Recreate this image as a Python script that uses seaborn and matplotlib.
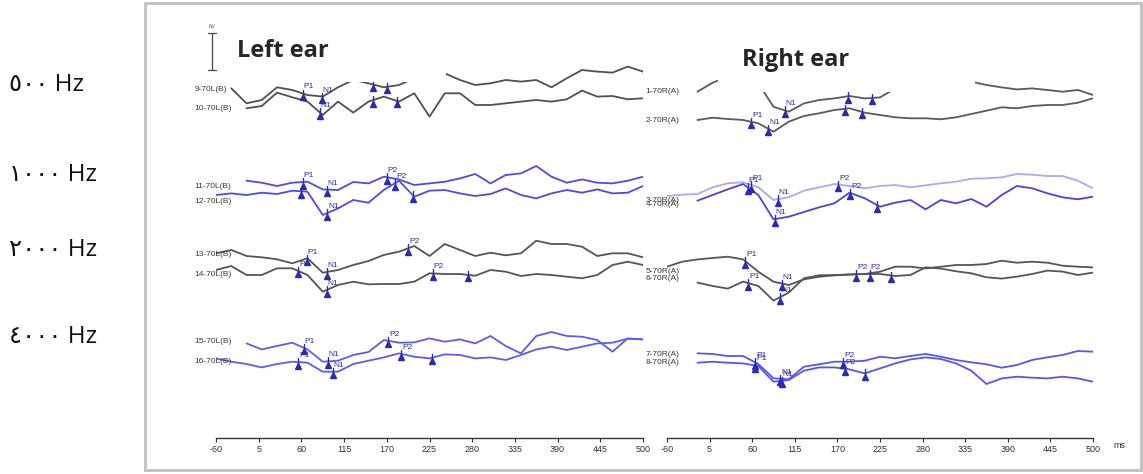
import numpy as np
import pandas as pd
import matplotlib.pyplot as plt
import seaborn as sns
from matplotlib.patches import Rectangle
from matplotlib.lines import Line2D

nan = np.nan

# time axis (ms) shared by every trace
t_ms = [-60, -40, -20, 0, 20, 40, 60, 80, 100, 120, 140, 160, 180, 200, 220,
        240, 260, 280, 300, 320, 340, 360, 380, 400, 420, 440, 460, 480, 500]
tick_labels = ['-60', '5', '60', '115', '170', '225', '280', '335', '390', '445', '500']
freq_labels = ['٥٠٠ Hz', '١٠٠٠ Hz', '٢٠٠٠ Hz', '٤٠٠٠ Hz']

# ---- left ear traces (amplitude relative to each baseline) ----
left_names = ['9-70L(B)', '10-70L(B)', '11-70L(B)', '12-70L(B)',
              '13-70L(B)', '14-70L(B)', '15-70L(B)', '16-70L(B)']
left_base = [348.7, 329.7, 251.3, 236.3, 183, 163, 96.3, 76.3]

L9 = [nan, 1.0, -14.0, -10.7, 2.0, -0.7, -5.7, -7.3, 2.0, 9.3, 6.0, 2.0, 4.3, 11.0, 16.0,
      16.0, 9.3, 4.3, 6.0, 9.3, 7.7, 9.3, 2.0, 11.0, 19.3, 17.7, 16.7, 22.7, 17.7]
L10 = [nan, nan, 0.0, 2.3, 15.7, 11.0, 6.7, -6.7, 6.7, -4.3, 6.7, 11.7, 6.7, 15.0, -8.3,
       15.0, 15.0, 3.3, 3.3, 5.0, 6.7, 8.3, 6.7, 9.0, 17.7, 11.7, 12.3, 9.0, 10.0]
L11 = [nan, nan, 6.0, 4.0, 0.7, 4.0, 5.0, -2.7, -3.3, 4.7, 3.3, 10.0, 7.3, 1.7, 3.3,
       5.0, 8.3, 12.7, 3.3, 11.7, 13.3, 20.7, 10.0, 4.0, 7.3, 4.0, 3.3, 6.0, 10.0]
L12 = [6.7, 8.3, 6.7, 9.0, 7.7, 11.0, 10.0, -13.3, -6.7, 1.7, -1.0, 11.7, 21.0, 5.0, 11.0,
       11.7, 8.3, 5.7, 7.7, 13.3, 6.7, 3.3, 8.3, 11.7, 9.0, 12.3, 8.3, 9.0, 15.7]
L13 = [1.7, 5.0, -1.0, -2.3, -4.3, -8.3, -3.3, -17.7, -15.0, -10.0, -6.0, 0.0, 3.3, 9.0, -1.0,
       11.0, 5.0, -1.0, 2.3, -0.3, 1.7, 14.3, 11.0, 11.0, 8.3, -1.0, 1.7, 1.7, -2.3]
L14 = [5.0, 9.0, 0.0, 0.0, 6.7, 6.7, 0.0, -16.7, -10.0, -6.7, -9.3, -9.0, -9.0, -6.7, 1.7,
       1.0, 1.0, -0.7, 5.0, 3.3, -1.0, 1.0, 0.0, -1.7, -3.3, 0.0, 10.0, 13.3, 10.0]
L15 = [nan, nan, -1.7, -7.7, -4.3, -1.0, -7.7, -20.0, -19.0, -13.3, -10.3, 1.7, -1.0, -0.7, 3.3,
       0.0, 2.3, -1.7, 5.7, -4.3, -11.7, 5.7, 9.7, 5.7, 5.0, 1.7, -10.0, 3.3, 2.3]
L16 = [3.3, 0.0, -2.3, -5.7, -2.3, 0.0, -1.0, -10.0, -10.0, -2.3, 1.0, 4.3, 8.3, 5.0, 3.3,
       7.3, 6.7, 3.3, 4.3, 1.7, 6.7, 12.3, 15.0, 11.7, 15.0, 18.3, 19.0, 23.0, 22.3]

# ---- right ear traces ----
right_names = ['1-70R(A)', '2-70R(A)', '3-70R(A)', '4-70R(A)',
               '5-70R(A)', '6-70R(A)', '7-70R(A)', '8-70R(A)']
right_base = [346.3, 318, 238, 233, 166.3, 159.7, 83, 75.3]

R1 = [nan, nan, 0.0, 9.0, 15.0, 16.7, 8.3, -15.0, -20.0, -11.7, -8.3, -6.7, -4.3, -6.7, -5.7,
      3.3, 8.3, 11.7, 13.3, 13.3, 10.0, 6.7, 4.3, 2.3, 3.3, 1.7, 0.0, 1.7, -3.3]
R2 = [nan, nan, 0.0, 2.3, 1.0, 0.0, -3.3, -11.7, -1.7, 4.0, 6.7, 10.0, 11.7, 7.3, 5.0,
      2.7, 1.7, 1.7, 0.7, 2.7, 6.0, 9.3, 12.7, 11.7, 14.0, 15.0, 15.0, 17.3, 21.7]
R3 = [4.0, 5.3, 6.0, 12.7, 16.7, 17.7, 12.7, 0.0, 2.7, 9.3, 12.7, 16.0, 14.0, 11.7, 14.0,
      15.0, 12.7, 14.7, 16.7, 18.3, 21.3, 21.7, 22.7, 26.0, 25.3, 24.0, 24.0, 19.3, 11.7]
R4 = [nan, nan, 4.3, 10.0, 15.7, 21.0, 10.0, -14.3, -11.7, -7.0, -2.3, 1.7, 12.3, 6.7, -1.7,
      2.3, 5.0, -4.3, 5.0, 1.7, 6.0, -1.7, 10.0, 19.0, 16.7, 11.7, 7.7, 5.7, 8.3]
R5 = [5.0, 10.0, 12.3, 13.7, 15.0, 12.3, 0.0, -10.0, -13.3, -7.7, -5.0, -3.7, -2.7, -2.3, 0.0,
      5.0, 5.0, 3.3, 5.0, 6.7, 6.7, 7.7, 11.0, 9.0, 10.0, 9.0, 6.0, 5.0, 4.3]
R6 = [nan, nan, -4.3, -7.7, -10.3, -3.3, -7.7, -22.3, -14.3, 0.0, 3.0, 3.3, 3.7, 4.3, 4.3,
      2.3, 3.3, 11.0, 9.7, 7.0, 5.0, 1.0, -0.3, 1.7, 4.3, 7.7, 6.7, 3.3, 5.7]
R7 = [nan, nan, 1.7, 1.0, -1.0, -1.0, -9.0, -23.3, -24.3, -11.7, -9.3, -6.7, -6.7, -5.7, -1.7,
      -3.3, -1.0, 1.0, -1.7, -5.0, -7.3, -9.3, -12.7, -10.0, -5.0, -2.3, 0.0, 4.0, 3.3]
R8 = [nan, nan, 0.0, 1.0, 0.0, -0.7, -3.3, -19.0, -17.3, -8.0, -4.7, -4.7, -6.7, -10.7, -5.7,
      -0.7, 3.3, 5.3, 3.7, -0.7, -8.0, -21.3, -15.7, -14.0, -15.0, -15.7, -14.0, -15.7, -19.0]

# peak markers: (trace index, latency ms, label)
left_peaks = [(0, 54, 'P1'), (0, 79, 'N1'), (0, 146, 'P2'), (0, 164, ''),
              (1, 76, 'N1'), (1, 146, ''), (1, 177, ''),
              (2, 54, 'P1'), (2, 85, 'N1'), (2, 164, 'P2'),
              (3, 52, ''), (3, 86, 'N1'), (3, 175, 'P2'), (3, 198, ''),
              (4, 59, 'P1'), (4, 85, 'N1'), (4, 192, 'P2'),
              (5, 48, 'P1'), (5, 85, 'N1'), (5, 224, 'P2'), (5, 271, ''),
              (6, 55, 'P1'), (6, 87, 'N1'), (6, 166, 'P2'),
              (7, 48, 'P1'), (7, 93, 'N1'), (7, 183, 'P2'), (7, 223, '')]
right_peaks = [(0, 95, 'N1'), (0, 178, 'P2'), (0, 209, ''),
               (1, 51, 'P1'), (1, 73, 'N1'), (1, 174, ''), (1, 196, ''),
               (2, 51, 'P1'), (2, 86, 'N1'), (2, 165, 'P2'),
               (3, 46, 'P1'), (3, 82, 'N1'), (3, 181, 'P2'), (3, 216, ''),
               (4, 43, 'P1'), (4, 91, 'N1'), (4, 189, 'P2'),
               (5, 47, 'P1'), (5, 89, 'N1'), (5, 207, 'P2'), (5, 235, ''),
               (6, 56, 'P1'), (6, 89, 'N1'), (6, 172, 'P2'),
               (7, 56, 'P1'), (7, 91, 'N1'), (7, 174, 'P2'), (7, 200, '')]

left_traces = [L9, L10, L11, L12, L13, L14, L15, L16]
right_traces = [R1, R2, R3, R4, R5, R6, R7, R8]
left_colors = ['#505050', '#505050', '#4b4bea', '#4b4bea',
               '#555555', '#555555', '#5c5cf0', '#5c5cf0']
right_colors = ['#5a5a5a', '#5a5a5a', '#a9a9f6', '#4444e0',
                '#555555', '#555555', '#5656ee', '#5656ee']

sns.set_style('white')
plt.rcParams['font.family'] = ['Liberation Sans', 'DejaVu Sans']

W, H = 1143, 474
fig = plt.figure(figsize=(W / 100, H / 100), dpi=100)


def fx(px):
    return px / W


def fy(py):
    return 1 - py / H


mark_col = '#2b2bb0'


def draw_panel(ax, traces, names, base, colors, peaks):
    t = np.array(t_ms, dtype=float)
    for vals, name, b, c in zip(traces, names, base, colors):
        df = pd.DataFrame({'t': t, 'v': np.array(vals) + b}).dropna()
        sns.lineplot(data=df, x='t', y='v', ax=ax, color=c, lw=1.3,
                     estimator=None, sort=False)
        ax.text(-88, b, name, fontsize=6, color='#3a3a3a', ha='left',
                va='center', clip_on=False)
    for idx, lat, lab in peaks:
        vals = np.array(traces[idx])
        ok = ~np.isnan(vals)
        y = np.interp(lat, t[ok], vals[ok]) + base[idx]
        ax.plot([lat, lat], [y - 3, y + 4], color=mark_col, lw=1)
        ax.plot([lat], [y - 3.5], marker='^', ms=4, color=mark_col, mec=mark_col)
        if lab:
            ax.text(lat + 1, y + 3, lab, fontsize=6, color=mark_col,
                    ha='left', va='bottom')
    ax.set_xlim(-60, 500)
    ax.set_ylim(0, 418)
    ax.set_xticks(np.linspace(-60, 500, 11))
    ax.set_xticklabels(tick_labels)
    ax.set_yticks([])
    ax.set_xlabel('')
    ax.set_ylabel('')
    for s in ['left', 'top', 'right']:
        ax.spines[s].set_visible(False)
    ax.spines['bottom'].set_color('#333333')
    ax.spines['bottom'].set_linewidth(1)
    ax.tick_params(axis='x', direction='out', length=3, width=0.8, pad=2,
                   labelsize=6.5, colors='#333333', bottom=True)
    ax.patch.set_alpha(0)


axL = fig.add_axes([fx(216), 36 / H, 427 / W, 418 / H])
axR = fig.add_axes([fx(667), 36 / H, 426 / W, 418 / H])
draw_panel(axL, left_traces, left_names, left_base, left_colors, left_peaks)
draw_panel(axR, right_traces, right_names, right_base, right_colors, right_peaks)

# white boxes behind the ear titles (they cover the tops of the first traces)
fig.add_artist(Rectangle((fx(232), fy(82)), 214 / W, 74 / H, transform=fig.transFigure,
                         facecolor='white', edgecolor='none', zorder=5))
fig.add_artist(Rectangle((fx(718), fy(92)), 257 / W, 84 / H, transform=fig.transFigure,
                         facecolor='white', edgecolor='none', zorder=5))

fig.text(fx(237), fy(57), 'Left ear', fontsize=17, fontweight='bold',
         family=['Open Sans', 'DejaVu Sans'], va='baseline', zorder=6)
fig.text(fx(742), fy(66), 'Right ear', fontsize=17, fontweight='bold',
         family=['Open Sans', 'DejaVu Sans'], va='baseline', zorder=6)
fig.text(fx(1113), fy(445), 'ms', fontsize=6.5, color='#333333', va='center')

# amplitude scale bar
sb = '#555555'
fig.add_artist(Line2D([fx(212), fx(212)], [fy(33), fy(70)], color=sb, lw=1))
fig.add_artist(Line2D([fx(208), fx(216)], [fy(33), fy(33)], color=sb, lw=1))
fig.add_artist(Line2D([fx(208), fx(216)], [fy(70), fy(70)], color=sb, lw=1))
fig.text(fx(212), fy(26), 'NV', fontsize=3.5, color=sb, ha='center', va='center')

# frequency labels on the left
for lab, py in zip(freq_labels, [85, 175, 250, 337]):
    fig.text(fx(9), fy(py), lab, fontsize=17.5, family=['Open Sans', 'DejaVu Sans'],
             color='#111111', va='center', ha='left')

# outer frame of the screenshot
fig.add_artist(Rectangle((fx(145), fy(470)), 996 / W, 467 / H, transform=fig.transFigure,
                         facecolor='none', edgecolor='#c0c0c0', lw=2, zorder=7))

fig.savefig('out.png', dpi=100)
